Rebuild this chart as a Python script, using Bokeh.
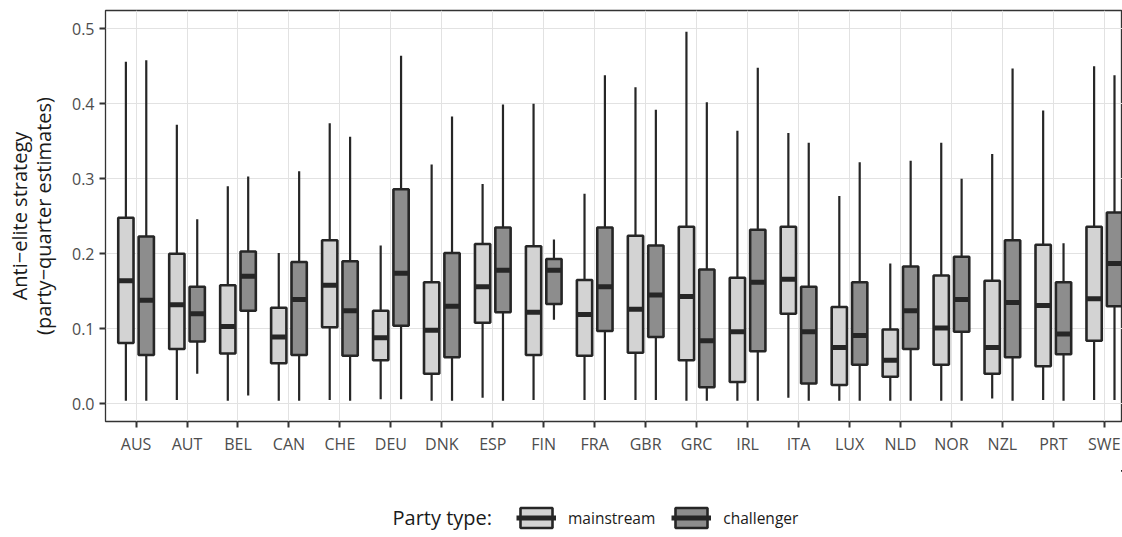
import numpy as np
from bokeh.plotting import figure
from bokeh.layouts import column
from bokeh.models import (ColumnDataSource, Range1d, FixedTicker, Legend, LegendItem,
                          Label, PrintfTickFormatter)
from bokeh.embed import file_html
from bokeh.resources import INLINE

countries = ["AUS", "AUT", "BEL", "CAN", "CHE", "DEU", "DNK", "ESP", "FIN", "FRA",
             "GBR", "GRC", "IRL", "ITA", "LUX", "NLD", "NOR", "NZL", "PRT", "SWE"]

# mainstream parties: whisker low, Q1, median, Q3, whisker high
main_lo = [0.004, 0.005, 0.004, 0.004, 0.005, 0.006, 0.004, 0.008, 0.005, 0.005,
           0.005, 0.004, 0.004, 0.008, 0.004, 0.004, 0.004, 0.007, 0.005, 0.005]
main_q1 = [0.081, 0.073, 0.067, 0.054, 0.102, 0.058, 0.040, 0.108, 0.065, 0.064,
           0.068, 0.058, 0.029, 0.120, 0.025, 0.036, 0.052, 0.040, 0.050, 0.084]
main_med = [0.164, 0.132, 0.103, 0.089, 0.158, 0.088, 0.098, 0.156, 0.122, 0.119,
            0.126, 0.143, 0.096, 0.166, 0.075, 0.058, 0.101, 0.075, 0.131, 0.140]
main_q3 = [0.248, 0.200, 0.158, 0.128, 0.218, 0.124, 0.162, 0.213, 0.210, 0.165,
           0.224, 0.236, 0.168, 0.236, 0.129, 0.099, 0.171, 0.164, 0.212, 0.236]
main_hi = [0.456, 0.372, 0.290, 0.201, 0.374, 0.211, 0.319, 0.293, 0.400, 0.280,
           0.422, 0.496, 0.364, 0.361, 0.277, 0.187, 0.348, 0.333, 0.391, 0.450]

# challenger parties
chal_lo = [0.004, 0.040, 0.011, 0.004, 0.004, 0.006, 0.004, 0.004, 0.112, 0.005,
           0.005, 0.004, 0.004, 0.004, 0.004, 0.004, 0.004, 0.004, 0.004, 0.005]
chal_q1 = [0.065, 0.083, 0.124, 0.065, 0.064, 0.104, 0.062, 0.122, 0.133, 0.097,
           0.089, 0.022, 0.070, 0.027, 0.052, 0.073, 0.096, 0.062, 0.066, 0.130]
chal_med = [0.138, 0.120, 0.170, 0.139, 0.124, 0.174, 0.130, 0.178, 0.178, 0.156,
            0.145, 0.084, 0.162, 0.096, 0.091, 0.124, 0.139, 0.135, 0.093, 0.187]
chal_q3 = [0.223, 0.156, 0.203, 0.189, 0.190, 0.286, 0.201, 0.235, 0.193, 0.235,
           0.211, 0.179, 0.232, 0.156, 0.162, 0.183, 0.196, 0.218, 0.162, 0.255]
chal_hi = [0.458, 0.246, 0.303, 0.310, 0.356, 0.464, 0.383, 0.399, 0.219, 0.438,
           0.392, 0.402, 0.448, 0.348, 0.322, 0.324, 0.300, 0.447, 0.214, 0.438]

y_ticks = [0.0, 0.1, 0.2, 0.3, 0.4, 0.5]
group_labels = ["mainstream", "challenger"]
group_colors = ["#D3D3D3", "#8D8D8D"]
legend_title = "Party type:"

FONT = "Open Sans"
LINE = "#262626"
BOX_W = 0.3
DODGE = 0.2
FRAME_LEFT = 105

pos = np.arange(1, len(countries) + 1)

# ---------------- main panel ----------------
p = figure(width=1122, height=470, output_backend="svg", toolbar_location=None,
           x_range=Range1d(0.4, 20.357), y_range=Range1d(-0.0236, 0.5244),
           min_border_left=FRAME_LEFT, min_border_right=0, min_border_top=10,
           min_border_bottom=49)
p.background_fill_color = "white"
p.border_fill_color = "white"
p.outline_line_color = "#333333"
p.outline_line_width = 1.3

sources = []
groups = [
    (main_lo, main_q1, main_med, main_q3, main_hi, -DODGE),
    (chal_lo, chal_q1, chal_med, chal_q3, chal_hi, DODGE),
]
for (lo, q1, med, q3, hi, off), col in zip(groups, group_colors):
    xs = pos + off
    src = ColumnDataSource(dict(x=xs, lo=lo, q1=q1, med=med, q3=q3, hi=hi,
                                xl=xs - BOX_W / 2, xr=xs + BOX_W / 2))
    sources.append(src)
    p.segment(x0="x", y0="lo", x1="x", y1="hi", source=src,
              line_color=LINE, line_width=2.2)
    p.vbar(x="x", width=BOX_W, bottom="q1", top="q3", source=src,
           fill_color=col, line_color=LINE, line_width=2.6)
    p.segment(x0="xl", y0="med", x1="xr", y1="med", source=src,
              line_color=LINE, line_width=5)

p.xaxis.ticker = FixedTicker(ticks=[int(v) for v in pos])
p.xaxis.major_label_overrides = {int(v): c for v, c in zip(pos, countries)}
p.yaxis.ticker = FixedTicker(ticks=y_ticks)
p.yaxis.formatter = PrintfTickFormatter(format="%.1f")
p.xgrid.ticker = FixedTicker(ticks=[int(v) for v in pos])
p.ygrid.ticker = FixedTicker(ticks=y_ticks)
for g in (p.xgrid, p.ygrid):
    g.grid_line_color = "#E2E2E2"
    g.grid_line_width = 1
for ax in (p.xaxis, p.yaxis):
    ax.axis_line_color = None
    ax.minor_tick_line_color = None
    ax.major_tick_in = 0
    ax.major_tick_out = 6
    ax.major_tick_line_color = "#333333"
    ax.major_tick_line_width = 2
    ax.major_label_text_font = FONT
    ax.major_label_text_font_size = "16px"
    ax.major_label_text_color = "#4D4D4D"
    ax.major_label_standoff = 5

p.yaxis.axis_label = "Anti\u2212elite strategy\n(party\u2212quarter estimates)"
p.yaxis.axis_label_text_font = FONT
p.yaxis.axis_label_text_font_size = "20px"
p.yaxis.axis_label_text_font_style = "normal"
p.yaxis.axis_label_text_color = "#1A1A1A"
p.yaxis.axis_label_text_line_height = 0.9
p.yaxis.axis_label_standoff = 12

# ---------------- legend strip ----------------
lg = figure(width=1122, height=67, output_backend="svg", toolbar_location=None,
            x_axis_location=None, y_axis_location=None,
            x_range=Range1d(-10, -9), y_range=Range1d(-10, -9),
            min_border_left=FRAME_LEFT, min_border_right=0, min_border_top=0,
            min_border_bottom=0)
lg.grid.visible = False
lg.outline_line_color = None
lg.background_fill_color = "white"
lg.border_fill_color = "white"

items = []
for src, lab, col in zip(sources, group_labels, group_colors):
    # same data, outside this strip's visible ranges: only the legend keys show
    rb = lg.vbar(x="x", width=BOX_W, bottom="q1", top="q3", source=src,
                 fill_color=col, line_color=LINE, line_width=2.6)
    rm = lg.segment(x0="xl", y0="med", x1="xr", y1="med", source=src,
                    line_color=LINE, line_width=5)
    items.append(LegendItem(label=lab, renderers=[rb, rm]))

legend = Legend(items=items, orientation="horizontal", location=(516 - FRAME_LEFT, 7),
                glyph_width=40, glyph_height=25, label_standoff=12, spacing=16,
                padding=0, margin=0, border_line_color=None,
                background_fill_alpha=0, label_text_font=FONT,
                label_text_font_size="15.5px", label_text_color="#1A1A1A")
lg.add_layout(legend, "center")

title = Label(x=392 - FRAME_LEFT, y=20, x_units="screen", y_units="screen",
              text=legend_title, text_font=FONT, text_font_size="20px",
              text_color="#1A1A1A", text_baseline="middle", text_align="left")
lg.add_layout(title)

layout = column(p, lg, spacing=0)
open("out.html", "w").write(file_html(layout, INLINE))
